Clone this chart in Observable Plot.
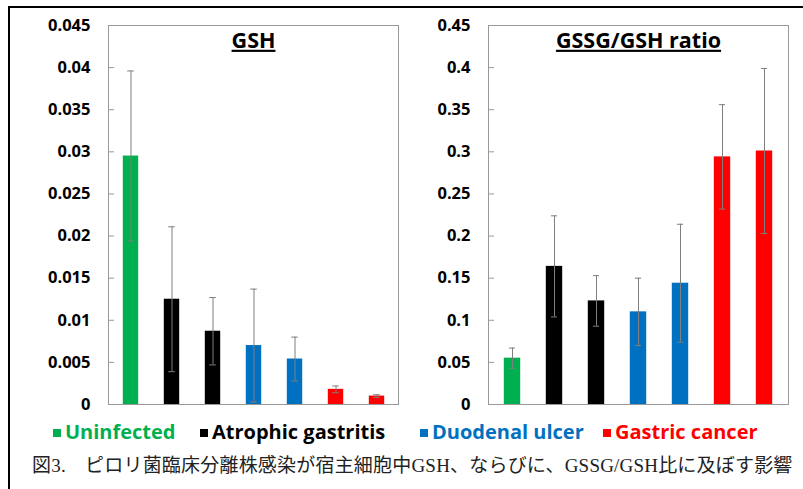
<!DOCTYPE html>
<html><head><meta charset="utf-8">
<script src="https://cdn.jsdelivr.net/npm/d3@7"></script>
<script src="https://cdn.jsdelivr.net/npm/@observablehq/plot@0.6"></script>
<style>
html,body{margin:0;padding:0;width:803px;height:489px;overflow:hidden;background:#fff;}
#border{position:absolute;left:8px;top:6px;width:900px;height:600px;border:2px solid #000;box-sizing:border-box;}
#left{position:absolute;left:10px;top:8px;}
#right{position:absolute;left:400px;top:8px;}
.leg{position:absolute;top:419px;font-family:"Open Sans",sans-serif;font-weight:bold;font-size:20px;white-space:nowrap;line-height:26px;}
.leg .sq{display:inline-block;width:8px;height:8px;margin-right:4px;vertical-align:middle;position:relative;top:-1px;}
#caption{position:absolute;left:32px;top:452px;font-family:"Liberation Serif","Noto Sans CJK JP",serif;font-size:19px;letter-spacing:0.2px;white-space:nowrap;line-height:28px;color:#222;}
</style></head>
<body>
<div id="border"></div>
<div id="left"></div>
<div id="right"></div>
<div id="legend"></div>
<div id="caption">図3.　ピロリ菌臨床分離株感染が宿主細胞中GSH、ならびに、GSSG/GSH比に及ぼす影響</div>
<script>
const categories = ["U1","AG1","AG2","DU1","DU2","GC1","GC2"];
const groups = ["Uninfected","Atrophic gastritis","Atrophic gastritis","Duodenal ulcer","Duodenal ulcer","Gastric cancer","Gastric cancer"];
const gshMean = [0.0295,0.0125,0.0087,0.0070,0.0054,0.0018,0.0010];
const gshErr = [0.0101,0.0086,0.0040,0.0067,0.0026,0.0004,0.00016];
const ratioMean = [0.055,0.164,0.123,0.110,0.144,0.294,0.301];
const ratioErr = [0.012,0.060,0.030,0.040,0.070,0.062,0.098];
const groupNames = ["Uninfected","Atrophic gastritis","Duodenal ulcer","Gastric cancer"];
const groupColors = ["#00B050","#000000","#0070C0","#FF0000"];
const gshTicks = [0,0.005,0.01,0.015,0.02,0.025,0.03,0.035,0.04,0.045];
const ratioTicks = [0,0.05,0.1,0.15,0.2,0.25,0.3,0.35,0.4,0.45];
const legendLeft = [53,200,420,603];

const fmt = d => String(+d.toFixed(3));

function panel(mean, err, ticks, title, width, ml, mr) {
  const data = categories.map((c,i)=>({cat:c, group:groups[i], v:mean[i], e:err[i]}));
  const fw = width - ml - mr;
  const step = fw / categories.length;
  const cap = (step - 7) / 2;
  const svg = Plot.plot({
    width, height: 400,
    marginLeft: ml, marginRight: mr, marginTop: 17, marginBottom: 4,
    x: {domain: categories, padding: 0, axis: null},
    y: {domain: [0, ticks[ticks.length-1]], axis: null},
    color: {domain: groupNames, range: groupColors},
    style: {fontFamily: "'Open Sans', sans-serif", background: "transparent", overflow: "visible"},
    marks: [
      Plot.barY(data, {x: "cat", y: "v", fill: "group", insetLeft: 12.8, insetRight: 12.8}),
      Plot.ruleX(data, {x: "cat", y1: d => d.v - d.e, y2: d => d.v + d.e, stroke: "#7f7f7f", strokeWidth: 1}),
      Plot.tickY(data, {x: "cat", y: d => d.v + d.e, stroke: "#7f7f7f", insetLeft: cap, insetRight: cap}),
      Plot.tickY(data, {x: "cat", y: d => d.v - d.e, stroke: "#7f7f7f", insetLeft: cap, insetRight: cap}),
      Plot.tickY(ticks, {y: d => d, stroke: "#999", insetRight: fw - 6}),
      Plot.frame({stroke: "#999"}),
      Plot.axisY({ticks, tickFormat: fmt, tickSize: 0, tickPadding: 18, label: null, fontSize: 16.5, fontWeight: "bold", fill: "#000"}),
      Plot.text([title], {frameAnchor: "top", dy: 7, fontSize: 21.5, fontWeight: "bold", fill: "#000"})
    ]
  });
  svg.querySelectorAll('g[aria-label="text"] text').forEach(t => t.setAttribute("text-decoration", "underline"));
  return svg;
}

document.getElementById("left").appendChild(panel(gshMean, gshErr, gshTicks, "GSH", 390, 98, 2));
document.getElementById("right").appendChild(panel(ratioMean, ratioErr, ratioTicks, "GSSG/GSH ratio", 400, 88, 12));

const leg = document.getElementById("legend");
groupNames.forEach((g, i) => {
  const d = document.createElement("div");
  d.className = "leg";
  d.style.left = legendLeft[i] + "px";
  d.style.color = groupColors[i];
  d.innerHTML = `<span class="sq" style="background:${groupColors[i]}"></span>${g}`;
  leg.appendChild(d);
});
</script>
</body></html>
